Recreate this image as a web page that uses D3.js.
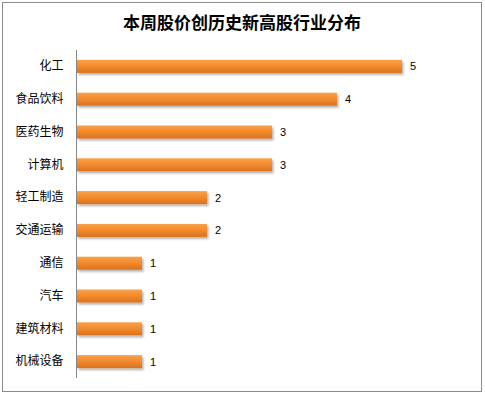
<!DOCTYPE html>
<html><head><meta charset="utf-8">
<script src="https://cdn.jsdelivr.net/npm/d3@7"></script>
<style>body{margin:0;background:#fff}svg{display:block}</style>
</head><body>
<script>
const categories = ["化工","食品饮料","医药生物","计算机","轻工制造","交通运输","通信","汽车","建筑材料","机械设备"];
const values = [5,4,3,3,2,2,1,1,1,1];
const title = "本周股价创历史新高股行业分布";

const W = 485, H = 396;
const svg = d3.select("body").append("svg").attr("width", W).attr("height", H);
const defs = svg.append("defs");
const g = defs.append("linearGradient").attr("id","bar").attr("x1",0).attr("y1",0).attr("x2",0).attr("y2",1);
g.append("stop").attr("offset","0%").attr("stop-color","#f9a04a");
g.append("stop").attr("offset","50%").attr("stop-color","#f38a2c");
g.append("stop").attr("offset","100%").attr("stop-color","#d9711f");
const f = defs.append("filter").attr("id","sh").attr("x","-5%").attr("y","-30%").attr("width","115%").attr("height","180%");
f.append("feDropShadow").attr("dx",1.5).attr("dy",2).attr("stdDeviation",1.2).attr("flood-color","#000").attr("flood-opacity",0.3);

svg.append("rect").attr("x",2.5).attr("y",2.5).attr("width",479).attr("height",389)
  .attr("fill","#fff").attr("stroke","#8c8c8c").attr("stroke-width",1);

svg.append("text").attr("x",242).attr("y",29).attr("text-anchor","middle")
  .attr("font-family","'Noto Sans CJK SC'").attr("font-weight","bold").attr("font-size",17)
  .attr("fill","#000").text(title);

const x = d3.scaleLinear().domain([0,5]).range([77,402]);
const y = d3.scaleBand().domain(categories).range([50,378]).paddingInner(0.6).paddingOuter(0.3);

svg.append("g").selectAll("rect").data(values).join("rect")
  .attr("x", x(0)).attr("y",(d,i)=>y(categories[i]) + y.bandwidth()/2 - 6.5)
  .attr("width", d=>x(d)-x(0)).attr("height",13)
  .attr("fill","url(#bar)").attr("filter","url(#sh)");

const yAxis = d3.axisLeft(y).tickSize(0).tickPadding(13);
const ag = svg.append("g").attr("transform","translate(76.5,0)").call(yAxis);
ag.select(".domain").attr("stroke","#888").attr("d","M0,50V378");
ag.selectAll("text").attr("font-family","'Noto Sans CJK SC'").attr("font-size",12).attr("fill","#000");

svg.append("g").selectAll("text").data(values).join("text")
  .attr("x", d=>x(d)+8).attr("y",(d,i)=>y(categories[i]) + y.bandwidth()/2 + 4)
  .attr("font-family","'Liberation Sans', Arial").attr("font-size",11).attr("fill","#000")
  .text(d=>d);
</script>
</body></html>
